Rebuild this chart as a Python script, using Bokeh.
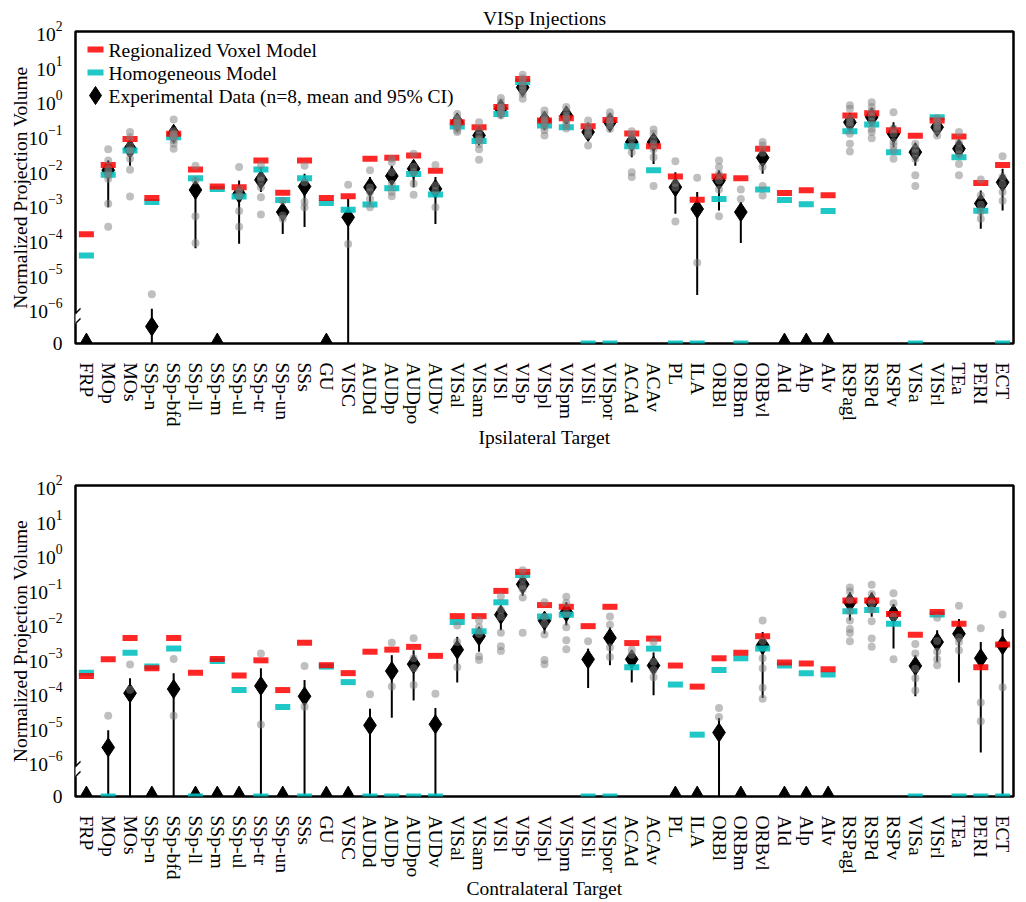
import math
from bokeh.plotting import figure
from bokeh.models import (FactorRange, Range1d, FixedTicker, Label, PolyAnnotation,
                          LinearScale)
from bokeh.layouts import column
from bokeh.embed import file_html
from bokeh.resources import INLINE

targets = ["FRP", "MOp", "MOs", "SSp-n", "SSp-bfd", "SSp-ll", "SSp-m", "SSp-ul", "SSp-tr",
           "SSp-un", "SSs", "GU", "VISC", "AUDd", "AUDp", "AUDpo", "AUDv", "VISal", "VISam",
           "VISl", "VISp", "VISpl", "VISpm", "VISli", "VISpor", "ACAd", "ACAv", "PL", "ILA",
           "ORBl", "ORBm", "ORBvl", "AId", "AIp", "AIv", "RSPagl", "RSPd", "RSPv", "VISa",
           "VISrl", "TEa", "PERI", "ECT"]

# All values are log10(normalized projection volume); None means exactly 0.
# ---------------- Ipsilateral ----------------
ipsi_rvm = [-3.85, -1.85, -1.10, -2.80, -0.95, -1.98, -2.47, -2.49, -1.72, -2.65, -1.72,
            -2.80, -2.75, -1.67, -1.64, -1.58, -2.02, -0.62, -0.76, -0.18, 0.63, -0.57,
            -0.50, -0.73, -0.55, -0.94, -1.31, -2.18, -2.85, -2.18, -2.23, -1.38, -2.66,
            -2.58, -2.72, -0.42, -0.36, -0.85, -1.01, -0.57, -1.03, -2.37, -1.85]
ipsi_hom = [-4.46, -2.13, -1.43, -2.92, -1.05, -2.23, -2.54, -2.76, -1.98, -2.86, -2.23,
            -2.95, -3.14, -2.99, -2.52, -2.11, -2.70, -0.74, -1.16, -0.38, 0.54, -0.71,
            -0.76, None, None, -1.31, -2.00, None, None, -2.83, None, -2.56, -2.86,
            -2.98, -3.18, -0.88, -0.68, -1.48, None, -0.47, -1.63, -3.17, None]
ipsi_mean = [None, -2.00, -1.38, -6.51, -0.95, -2.57, None, -2.68, -2.28, -3.21, -2.47,
             None, -3.36, -2.49, -2.17, -1.96, -2.54, -0.62, -1.00, -0.23, 0.39, -0.57,
             -0.42, -0.90, -0.62, -1.19, -1.19, -2.49, -3.12, -2.30, -3.21, -1.64, None,
             None, None, -0.62, -0.47, -0.95, -1.48, -0.76, -1.38, -2.96, -2.35]
ipsi_ci_hi = [None, -1.72, -1.19, -6.00, -0.76, -2.20, None, -2.30, -1.91, -2.88, -2.10,
              None, -2.83, -2.20, -1.87, -1.72, -2.20, -0.45, -0.81, -0.12, 0.59, -0.45,
              -0.30, -0.71, -0.45, -0.95, -1.05, -2.06, -2.63, -2.00, -2.92, -1.38, None,
              None, None, -0.45, -0.30, -0.62, -1.24, -0.60, -1.20, -2.59, -1.96]
ipsi_ci_lo = [None, -3.07, -1.87, None, -1.19, -4.25, None, -4.12, -2.63, -3.84, -3.64,
              None, None, -3.00, -2.44, -2.49, -3.55, -0.80, -1.29, -0.35, 0.20, -0.70,
              -0.60, -1.14, -0.80, -1.63, -1.82, -3.26, -5.60, -3.16, -4.10, -2.10, None,
              None, None, -0.80, -0.65, -1.34, -1.87, -0.95, -1.60, -3.69, -3.16]
ipsi_samples = [
    [],
    [-1.40, -1.72, -1.95, -2.05, -2.15, -2.25, -2.97, -3.63],
    [-0.90, -1.05, -1.30, -1.43, -1.50, -1.67, -1.99, -2.76],
    [-5.58],
    [-0.54, -0.88, -0.95, -1.00, -1.05, -1.14, -1.24, -1.38],
    [-1.87, -2.30, -3.33, -4.10],
    [],
    [-1.91, -2.55, -2.63, -2.75, -3.18, -3.63],
    [-1.85, -2.20, -2.30, -2.49, -2.78, -3.28],
    [-2.88, -3.31, -3.40],
    [-1.87, -2.35, -2.92, -3.07],
    [],
    [-2.42, -4.13],
    [-2.00, -2.50, -2.63, -2.83, -3.07],
    [-1.67, -1.77, -2.06, -2.40, -2.63, -2.75],
    [-1.53, -1.90, -2.06, -2.39, -2.71],
    [-1.85, -2.44, -2.60, -3.07],
    [-0.38, -0.50, -0.55, -0.62, -0.70, -0.77, -0.85, -0.90],
    [-0.62, -0.85, -1.00, -1.10, -1.14, -1.25, -1.40, -1.70],
    [0.08, -0.04, -0.15, -0.20, -0.25, -0.30, -0.38, -0.42],
    [0.75, 0.65, 0.55, 0.45, 0.38, 0.30, 0.20, 0.06],
    [-0.28, -0.40, -0.50, -0.57, -0.65, -0.75, -0.85, -1.00],
    [-0.18, -0.30, -0.42, -0.50, -0.60, -0.70, -0.80],
    [-0.57, -0.75, -0.85, -0.95, -1.00, -1.29],
    [-0.33, -0.45, -0.55, -0.62, -0.70, -0.81],
    [-0.88, -1.00, -1.10, -1.30, -1.48, -2.06, -2.20],
    [-0.83, -0.95, -1.14, -1.25, -1.40, -1.63, -2.46],
    [-1.74, -2.37, -2.50, -3.48],
    [-2.22, -4.67],
    [-1.72, -1.91, -2.10, -2.30, -2.56, -3.33],
    [-2.56, -2.83],
    [-1.19, -1.29, -1.50, -1.91, -2.46, -2.73],
    [], [], [],
    [-0.13, -0.23, -0.50, -0.62, -0.71, -0.95, -1.24, -1.46],
    [-0.04, -0.18, -0.30, -0.45, -0.60, -0.81, -0.90, -1.08],
    [-0.33, -0.80, -0.95, -1.19, -1.30, -1.43, -1.67],
    [-1.24, -1.38, -1.50, -1.67, -2.15, -2.46],
    [-0.50, -0.60, -0.70, -0.76, -0.85, -1.00],
    [-0.90, -1.20, -1.40, -1.55, -1.82, -2.15],
    [-2.27, -2.73, -3.00, -3.20, -3.40],
    [-1.60, -2.20, -2.40, -2.63, -2.88],
]

# ---------------- Contralateral ----------------
contra_rvm = [-3.51, -3.03, -2.41, -3.29, -2.41, -3.42, -3.02, -3.50, -3.06, -3.92, -2.55,
              -3.20, -3.43, -2.81, -2.75, -2.67, -2.93, -1.78, -1.78, -1.05, -0.50, -1.46,
              -1.51, -2.07, -1.51, -2.56, -2.43, -3.21, -3.82, -3.00, -2.84, -2.36, -3.12,
              -3.15, -3.32, -1.33, -1.33, -1.72, -2.32, -1.66, -2.00, -3.26, -2.60]
contra_hom = [-3.42, None, -2.84, -3.24, -2.72, None, -3.08, -3.92, None, -4.41, None,
              -3.24, -3.69, None, None, None, None, -1.95, -2.22, -1.38, -0.59, -1.79,
              -1.74, None, None, -3.26, -2.72, -3.76, -5.21, -3.34, -3.00, -2.72, -3.21,
              -3.43, -3.47, -1.64, -1.60, -2.00, None, -1.73, None, None, None]
contra_mean = [None, -5.58, -4.01, None, -3.89, None, None, None, -3.80, None, -4.10,
               None, None, -4.94, -3.37, -3.17, -4.91, -2.75, -2.36, -1.74, -0.86, -1.91,
               -1.67, -3.03, -2.41, -3.03, -3.21, None, None, -5.15, None, -2.62, None,
               None, None, -1.38, -1.38, -1.72, -3.22, -2.53, -2.29, -3.00, -2.62]
contra_ci_hi = [None, -5.08, -3.58, None, -3.43, None, None, None, -3.29, None, -3.63,
                None, None, -4.46, -2.91, -2.77, -4.44, -2.38, -2.10, -1.48, -0.67, -1.67,
                -1.38, -2.72, -2.10, -2.77, -2.83, None, None, -4.73, None, -2.24, None,
                None, None, -1.09, -1.10, -1.43, -2.91, -2.19, -1.86, -2.53, -2.15]
contra_ci_lo = [None, None, None, None, None, None, None, None, None, None, None,
                None, None, None, -4.72, -4.22, None, -3.70, -2.81, -2.19, -1.19, -2.29,
                -2.05, -3.86, -3.20, -3.70, -4.07, None, None, None, None, -4.15, None,
                None, None, -1.91, -1.80, -2.72, -4.10, -3.10, -3.70, -5.73, None]
contra_samples = [
    [],
    [-4.66],
    [-3.18, -3.91],
    [],
    [-3.02, -4.66],
    [], [], [],
    [-2.86, -4.92],
    [],
    [-3.22, -4.40],
    [], [],
    [-4.04],
    [-2.55, -3.82],
    [-2.42, -3.00, -3.29, -3.77],
    [-4.03],
    [-2.05, -2.53, -3.26],
    [-1.91, -2.10, -2.30, -2.94, -3.05],
    [-1.21, -1.60, -1.80, -2.26, -2.65, -2.79],
    [-0.45, -0.70, -0.90, -1.00, -1.24, -2.26],
    [-1.38, -1.80, -2.00, -2.31, -3.05, -3.17],
    [-1.22, -1.40, -1.70, -2.10, -2.48, -2.74],
    [-2.51],
    [-1.79, -2.03, -2.69, -2.96],
    [-2.75, -2.90],
    [-2.53, -3.10, -3.34, -3.55],
    [], [],
    [-4.44, -4.70],
    [],
    [-1.91, -2.50, -3.00, -3.29, -3.85, -4.17],
    [], [], [],
    [-0.95, -1.07, -1.30, -1.64, -1.91, -2.15, -2.27, -2.51],
    [-0.87, -1.14, -1.40, -1.60, -1.93, -2.43, -2.67],
    [-1.12, -1.41, -1.80, -3.03],
    [-2.59, -2.86, -3.30, -3.58, -3.93],
    [-1.83, -2.50, -2.81, -3.03, -3.20],
    [-1.48, -2.40, -2.53, -2.77],
    [-2.13, -4.28, -4.82],
    [-1.73, -3.84],
]

legend_labels = ["Regionalized Voxel Model", "Homogeneous Model",
                 "Experimental Data (n=8, mean and 95% CI)"]

ZERO = 1e-7          # position on the log axis that is labelled "0"
RED = "#ff0000"
CYAN = "#00bfbf"
FONT = "Liberation Serif"
FS = "19.5px"
W = 1026
BL, BR = 75, 13
FW = W - BL - BR     # frame width in px


def val(v):
    return ZERO if v is None else 10 ** v


def panel(rvm, hom, mean, hi, lo, samples, xlabel, height, btop, fh, xl_standoff,
          title=None, legend=False):
    p = figure(x_range=FactorRange(*targets), y_axis_type="log", y_range=Range1d(ZERO, 1e2),
               width=W, height=height, output_backend="svg", toolbar_location=None,
               min_border_left=BL, min_border_right=BR, min_border_top=btop,
               min_border_bottom=height - btop - fh)
    # vertical pixel coordinate of the frame (0 = frame top) for the legend glyphs
    p.extra_y_ranges = {"px": Range1d(fh, 0)}
    p.extra_y_scales = {"px": LinearScale()}

    p.xgrid.visible = False
    p.ygrid.visible = False
    p.outline_line_color = "black"
    p.outline_line_width = 2.5
    p.background_fill_color = "white"

    if title:
        p.title.text = title
        p.title.align = "center"
        p.title.text_font = FONT
        p.title.text_font_size = FS
        p.title.text_font_style = "normal"
        p.title.text_color = "black"
        p.title.standoff = 5

    # error bars + means
    sx, y0, y1, mx, my, zx = [], [], [], [], [], []
    for t, m, h, l in zip(targets, mean, hi, lo):
        if m is None:
            zx.append(t)
        else:
            mx.append(t)
            my.append(val(m))
            sx.append(t)
            y0.append(val(l))
            y1.append(val(h))
    p.segment(x0=sx, y0=y0, x1=sx, y1=y1, line_color="black", line_width=2)
    p.scatter(mx, my, marker="diamond", size=19, fill_color="black", line_color="black")
    p.scatter(zx, [ZERO] * len(zx), marker="triangle", size=18, fill_color="black",
              line_color="black")

    p.rect(targets, [val(v) for v in hom], width=0.69, height=6, height_units="screen",
           fill_color=CYAN, fill_alpha=0.88, line_color=None)
    p.rect(targets, [val(v) for v in rvm], width=0.69, height=6, height_units="screen",
           fill_color=RED, fill_alpha=0.85, line_color=None)

    dx, dy = [], []
    for t, s in zip(targets, samples):
        for v in s:
            dx.append(t)
            dy.append(val(v))
    p.scatter(dx, dy, size=8, fill_color="gray", fill_alpha=0.5, line_color=None)

    # axes
    p.xaxis.major_label_orientation = -math.pi / 2
    p.xaxis.major_tick_line_color = None
    p.xaxis.minor_tick_line_color = None
    p.xaxis.axis_line_color = None
    p.xaxis.major_label_standoff = 13
    p.xaxis.axis_label = xlabel
    p.xaxis.axis_label_standoff = xl_standoff
    p.yaxis.ticker = FixedTicker(ticks=[1e-7, 1e-6, 1e-5, 1e-4, 1e-3, 1e-2, 1e-1, 1e0, 1e1, 1e2])
    p.yaxis.major_label_overrides = {1e-7: "0"}
    p.yaxis.major_tick_line_color = None
    p.yaxis.minor_tick_line_color = None
    p.yaxis.axis_line_color = None
    p.yaxis.major_label_standoff = 7
    p.yaxis.axis_label = "Normalized Projection Volume"
    p.yaxis.axis_label_standoff = -6
    for ax in (p.xaxis[0], p.yaxis[0]):
        ax.major_label_text_font = FONT
        ax.major_label_text_font_size = FS
        ax.major_label_text_color = "black"
        ax.axis_label_text_font = FONT
        ax.axis_label_text_font_size = FS
        ax.axis_label_text_font_style = "normal"
        ax.axis_label_text_color = "black"

    # axis break marks (screen units: origin at the frame's bottom-left corner)
    p.add_layout(PolyAnnotation(xs=[-4, 4, 4, -4], ys=[20, 20, 30, 30], xs_units="screen",
                                ys_units="screen", fill_color="white", fill_alpha=1,
                                line_color=None, level="overlay"))
    for base in (10, 20):
        p.add_layout(PolyAnnotation(xs=[-10, 5, 5, -10],
                                    ys=[base - 1, base + 14, base + 16, base + 1],
                                    xs_units="screen", ys_units="screen",
                                    fill_color="black", fill_alpha=1, line_color=None,
                                    level="overlay"))

    if legend:
        gy = [18, 41, 64]
        gx = 20 * len(targets) / FW       # 20 px right of the frame's left edge
        p.rect([gx], [gy[0]], width=16, width_units="screen", height=6, fill_color=RED,
               fill_alpha=0.85, line_color=None, y_range_name="px")
        p.rect([gx], [gy[1]], width=16, width_units="screen", height=6, fill_color=CYAN,
               fill_alpha=0.88, line_color=None, y_range_name="px")
        p.scatter([gx], [gy[2]], marker="diamond", size=18, fill_color="black",
                  line_color="black", y_range_name="px")
        for t, y in zip(legend_labels, gy):
            p.add_layout(Label(x=33, y=fh - y - 1, text=t, text_align="left",
                               x_units="screen", y_units="screen", text_baseline="middle",
                               text_font=FONT, text_font_size=FS, text_color="black"))
    return p


p1 = panel(ipsi_rvm, ipsi_hom, ipsi_mean, ipsi_ci_hi, ipsi_ci_lo, ipsi_samples,
           "Ipsilateral Target", 455, 31, 312, -2, title="VISp Injections", legend=True)
p2 = panel(contra_rvm, contra_hom, contra_mean, contra_ci_hi, contra_ci_lo, contra_samples,
           "Contralateral Target", 447, 30, 314, -4)

layout = column(p1, p2, spacing=0)
open("out.html", "w").write(file_html(layout, INLINE))
